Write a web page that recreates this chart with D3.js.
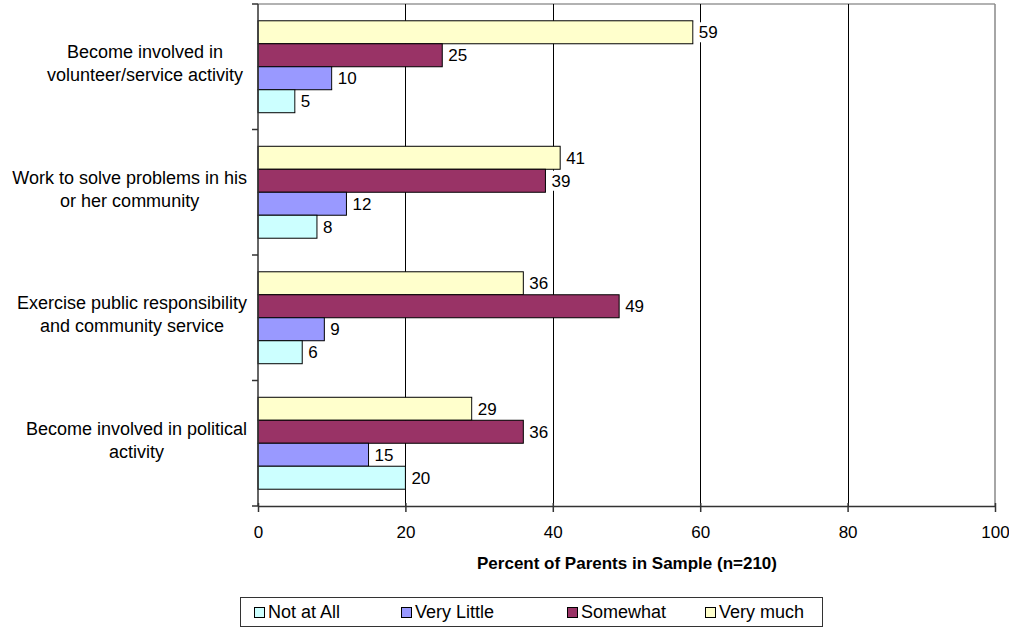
<!DOCTYPE html>
<html>
<head>
<meta charset="utf-8">
<script src="https://cdnjs.cloudflare.com/ajax/libs/d3/7.8.5/d3.min.js"></script>
<style>
  body { margin: 0; background: #fff; }
  svg text { font-family: Arial, "Liberation Sans", sans-serif; fill: #000; }
</style>
</head>
<body>
<svg id="chart" width="1009" height="629"></svg>
<script>
// data (top to bottom)
var categories = [
  ["Become involved in", "volunteer/service activity"],
  ["Work to solve problems in his", "or her community"],
  ["Exercise public responsibility", "and community service"],
  ["Become involved in political", "activity"]
];
var seriesNames = ["Very much", "Somewhat", "Very Little", "Not at All"];
var veryMuch   = [59, 41, 36, 29];
var somewhat   = [25, 39, 49, 36];
var veryLittle = [10, 12, 9, 15];
var notAtAll   = [5, 8, 6, 20];
var xTicks = [0, 20, 40, 60, 80, 100];
var legendOrder = ["Not at All", "Very Little", "Somewhat", "Very much"];

var colors = {
  "Very much": "#ffffcc",
  "Somewhat": "#993366",
  "Very Little": "#9999ff",
  "Not at All": "#ccffff"
};
var seriesValues = [veryMuch, somewhat, veryLittle, notAtAll];

var svg = d3.select("#chart");
var plotL = 258, plotR = 995, plotT = 4, plotB = 506;

var x = d3.scaleLinear().domain([0, 100]).range([plotL, plotR]);
var y = d3.scaleBand().domain(d3.range(categories.length)).range([plotT, plotB])
  .paddingInner(0).paddingOuter(0);
var inner = d3.scaleBand().domain(seriesNames).range([0, y.bandwidth()])
  .paddingOuter(0.73).paddingInner(0);

// plot border + gridlines
svg.append("line").attr("x1", plotL).attr("x2", plotR).attr("y1", plotT).attr("y2", plotT)
  .attr("stroke", "#999").attr("stroke-width", 1.5);
svg.append("line").attr("x1", plotR).attr("x2", plotR).attr("y1", plotT).attr("y2", plotB)
  .attr("stroke", "#888").attr("stroke-width", 1.5);
svg.selectAll(".grid").data(xTicks.slice(1, -1)).enter().append("line")
  .attr("x1", function(d) { return Math.round(x(d)) + 0.5; })
  .attr("x2", function(d) { return Math.round(x(d)) + 0.5; })
  .attr("y1", plotT).attr("y2", plotB)
  .attr("stroke", "#000").attr("stroke-width", 1);

// bars
var groups = svg.selectAll(".cat").data(categories).enter().append("g")
  .attr("transform", function(d, i) { return "translate(0," + y(i) + ")"; });

seriesNames.forEach(function(name, si) {
  groups.append("rect")
    .attr("x", x(0))
    .attr("y", inner(name))
    .attr("width", function(d, i) { return x(seriesValues[si][i]) - x(0); })
    .attr("height", inner.bandwidth())
    .attr("fill", colors[name])
    .attr("stroke", "#000").attr("stroke-width", 1);
});

// value labels with white background
seriesNames.forEach(function(name, si) {
  var lab = groups.append("g")
    .attr("transform", function(d, i) {
      return "translate(" + (x(seriesValues[si][i]) + 1) + "," + (inner(name) + inner.bandwidth() / 2) + ")";
    });
  lab.append("rect").attr("x", 0).attr("y", -10).attr("height", 20)
    .attr("width", function(d, i) { return String(seriesValues[si][i]).length * 9.5 + 7; })
    .attr("fill", "#fff");
  lab.append("text").attr("x", 5).attr("dy", "0.36em")
    .style("font-size", "17px")
    .text(function(d, i) { return seriesValues[si][i]; });
});

// y axis
var yAxis = svg.append("g").attr("transform", "translate(" + plotL + ",0)");
yAxis.append("line").attr("x1", 0).attr("x2", 0).attr("y1", plotT).attr("y2", plotB)
  .attr("stroke", "#333").attr("stroke-width", 1.5);
yAxis.selectAll(".yt").data(d3.range(categories.length + 1)).enter().append("line")
  .attr("x1", -6).attr("x2", 0)
  .attr("y1", function(i) { return plotT + i * y.step(); })
  .attr("y2", function(i) { return plotT + i * y.step(); })
  .attr("stroke", "#333").attr("stroke-width", 1.5);

// category labels: centred at 145 unless too wide, then pushed left of 247
var lineGap = 23;
svg.selectAll(".cl").data(categories).enter().append("text")
  .attr("text-anchor", "middle")
  .style("font-size", "18px")
  .each(function(d, i) {
    var t = d3.select(this);
    var spans = [];
    d.forEach(function(line, k) {
      spans.push(t.append("tspan").attr("dy", k === 0 ? 0 : lineGap).text(line));
    });
    var w = d3.max(spans, function(s) { return s.node().getComputedTextLength(); });
    var cx = Math.min(145, 247 - w / 2);
    spans.forEach(function(s) { s.attr("x", cx); });
    var mid = y(i) + y.bandwidth() / 2 - 3;
    t.attr("y", mid - (d.length - 1) * lineGap / 2 + 6);
  });

// x axis
var xAxis = svg.append("g").attr("transform", "translate(0," + plotB + ")")
  .call(d3.axisBottom(x).tickValues(xTicks).tickSize(6).tickSizeOuter(0).tickPadding(14));
xAxis.select(".domain").attr("stroke", "#333").attr("stroke-width", 1.5);
xAxis.selectAll(".tick line").attr("stroke", "#333").attr("stroke-width", 1.5).attr("y1", -3).attr("y2", 6);
xAxis.selectAll(".tick text").attr("y", 20)
  .style("font-size", "17px").style("font-family", "Arial, 'Liberation Sans', sans-serif");

svg.append("text").attr("x", 627).attr("y", 569).attr("text-anchor", "middle")
  .style("font-size", "17px").style("font-weight", "bold")
  .text("Percent of Parents in Sample (n=210)");

// legend
var legend = svg.append("g");
legend.append("rect").attr("x", 240.5).attr("y", 597.5).attr("width", 582).attr("height", 29)
  .attr("fill", "#fff").attr("stroke", "#333");
var legendX = [254, 401, 567, 705];
legendOrder.forEach(function(name, i) {
  var g = legend.append("g").attr("transform", "translate(" + legendX[i] + ",612)");
  g.append("rect").attr("x", 0.5).attr("y", -4.5).attr("width", 10).attr("height", 10)
    .attr("fill", colors[name]).attr("stroke", "#000");
  g.append("text").attr("x", 14).attr("dy", "0.36em").style("font-size", "18px").text(name);
});
</script>
</body>
</html>
